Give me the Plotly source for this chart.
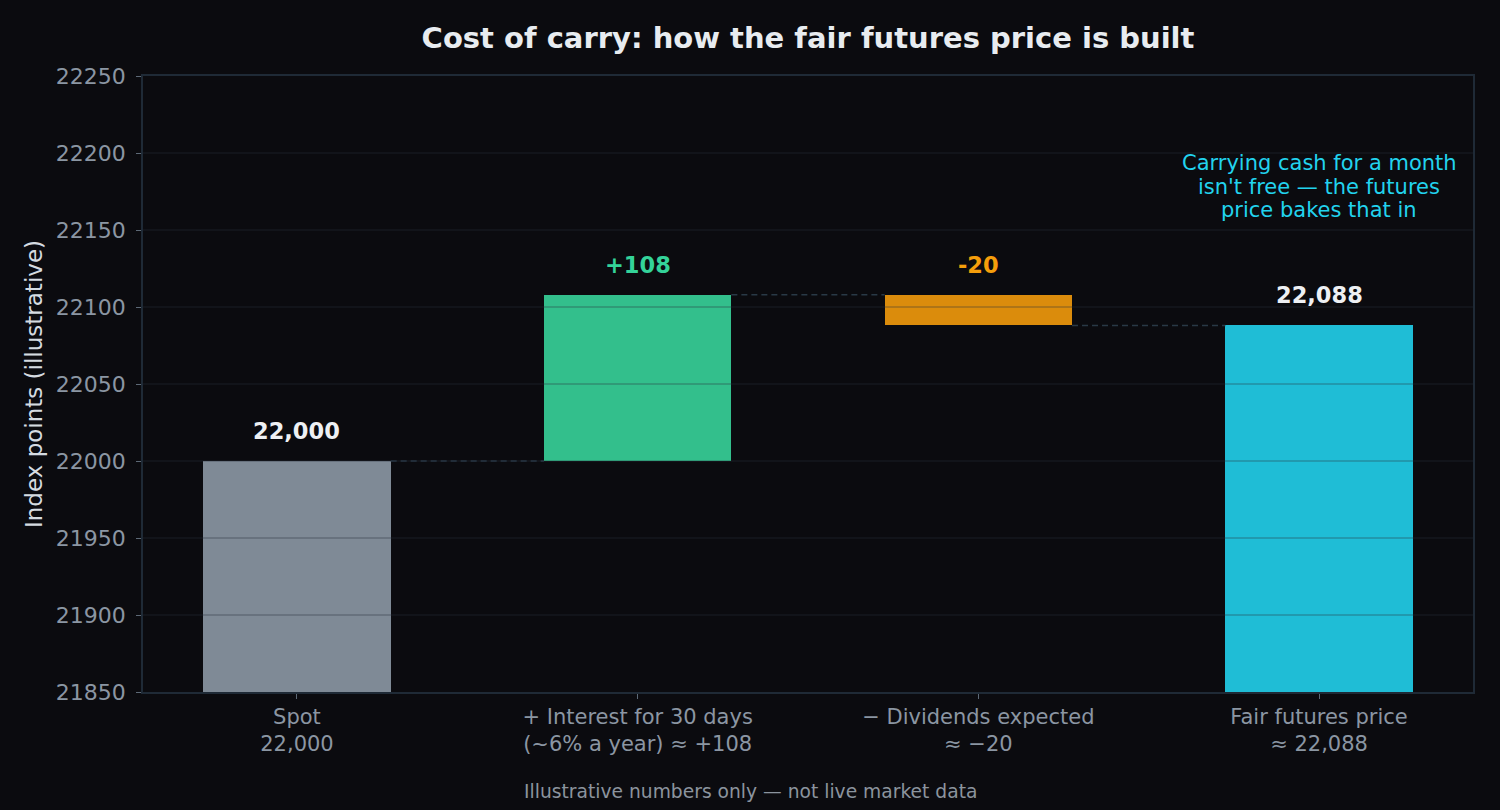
import plotly.graph_objects as go

# ---- data ----
categories = [
    "Spot<br>22,000",
    "+ Interest for 30 days<br>(~6% a year) ≈ +108",
    "− Dividends expected<br>≈ −20",
    "Fair futures price<br>≈ 22,088",
]
steps = [22000, 108, -20, 22088]
kinds = ["absolute", "relative", "relative", "total"]
bar_labels = ["22,000", "+108", "-20", "22,088"]
y_ticks = [21850, 21900, 21950, 22000, 22050, 22100, 22150, 22200, 22250]
y_tick_labels = ["21850", "21900", "21950", "22000", "22050", "22100", "22150", "22200", "22250"]
note_lines = ["Carrying cash for a month", "isn't free — the futures", "price bakes that in"]
note_level = 22178

# ---- styles ----
bar_colors = ["#7f8a96", "#33bf8c", "#db8c0c", "#1fbdd6"]
label_colors = ["#eef0f3", "#34d399", "#f59e0b", "#eef0f3"]
BG = "#0b0b0f"
SPINE = "#1f2a36"
FONT = "DejaVu Sans"
BAR_W = 0.55

# ---- build waterfall geometry from data ----
bases, heights, levels = [], [], []
running = 0
for v, k in zip(steps, kinds):
    if k == "relative":
        bases.append(running)
        heights.append(v)
        running += v
    else:
        bases.append(0)
        heights.append(v)
        running = v
    levels.append(running)

xs = list(range(len(categories)))

fig = go.Figure()
fig.add_trace(go.Bar(
    x=xs, y=heights, base=bases, width=BAR_W,
    marker=dict(color=bar_colors, line=dict(width=0)),
    hoverinfo="skip", showlegend=False,
))

shapes = []
# connectors
for i in range(len(xs) - 1):
    shapes.append(dict(
        type="line", xref="x", yref="y",
        x0=xs[i] + BAR_W / 2, x1=xs[i + 1] - BAR_W / 2,
        y0=levels[i], y1=levels[i],
        line=dict(color="#293946", width=1.5, dash="6px,4px"),
        layer="above",
    ))
# grid lines drawn above bars
for t in y_ticks[1:-1]:
    shapes.append(dict(
        type="line", xref="paper", yref="y", x0=0, x1=1, y0=t, y1=t,
        line=dict(color="rgba(40,50,62,0.34)", width=1.3), layer="above",
    ))

annotations = []
for i, (b, h) in enumerate(zip(bases, heights)):
    top = max(b, b + h)
    annotations.append(dict(
        x=xs[i], y=top, xref="x", yref="y", text="<b>%s</b>" % bar_labels[i],
        showarrow=False, yanchor="middle", yshift=30,
        font=dict(family=FONT, size=22.5, color=label_colors[i]),
    ))
mid = (len(note_lines) - 1) / 2
for k, line in enumerate(note_lines):
    annotations.append(dict(
        x=xs[-1], y=note_level, xref="x", yref="y", text=line,
        showarrow=False, yanchor="middle", xanchor="center",
        yshift=(mid - k) * 23.5,
        font=dict(family=FONT, size=21, color="#22d3ee"),
    ))
annotations.append(dict(
    x=(750 - 143) / 1330, y=-0.162, xref="paper", yref="paper",
    text="Illustrative numbers only — not live market data",
    showarrow=False, yanchor="middle", xanchor="center",
    font=dict(family=FONT, size=18.7, color="#8b949e"),
))

fig.update_layout(
    width=1500, height=810,
    paper_bgcolor=BG, plot_bgcolor=BG,
    margin=dict(l=143, r=27, t=76, b=118),
    title=dict(
        text="<b>Cost of carry: how the fair futures price is built</b>",
        x=0.5, xref="paper", y=1 - 38 / 810, yref="container",
        xanchor="center", yanchor="middle",
        font=dict(family=FONT, size=29, color="#e8ecf0"),
    ),
    font=dict(family=FONT),
    shapes=shapes, annotations=annotations,
    bargap=0,
)
fig.update_xaxes(
    range=[-0.452, 3.452], tickvals=xs, ticktext=categories,
    showgrid=False, zeroline=False,
    showline=True, linecolor=SPINE, linewidth=1.5, mirror=True,
    ticks="outside", ticklen=5, tickcolor="#5d6976", tickwidth=1,
    tickfont=dict(family=FONT, size=21, color="#8b96a3"),
)
fig.update_yaxes(
    range=[21850, 22250], tickvals=y_ticks, ticktext=y_tick_labels,
    showgrid=False, zeroline=False,
    showline=True, linecolor=SPINE, linewidth=1.5, mirror=True,
    ticks="outside", ticklen=5, tickcolor="#5d6976", tickwidth=1,
    tickfont=dict(family=FONT, size=22, color="#8b96a3"),
    ticklabelstandoff=6,
    title=dict(text="Index points (illustrative)", standoff=7,
               font=dict(family=FONT, size=23, color="#d5dbe1")),
)

fig.write_html("out.html")
